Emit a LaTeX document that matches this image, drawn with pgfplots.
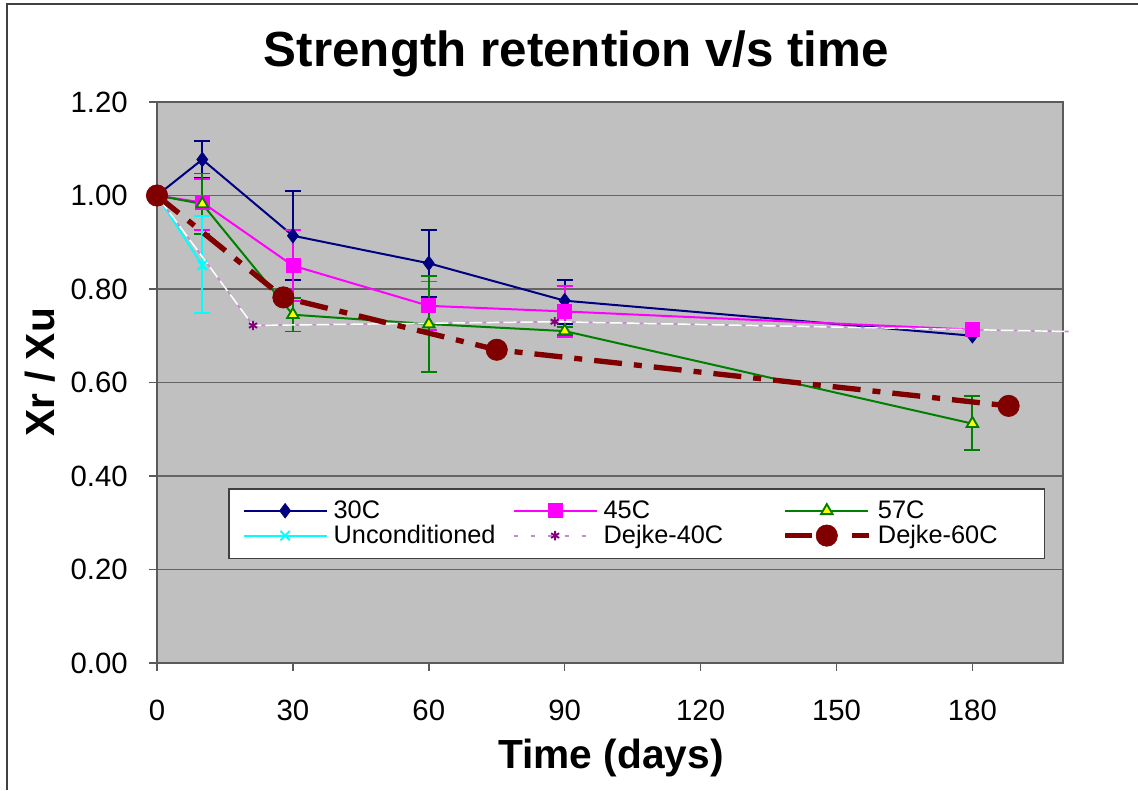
\documentclass[border=0pt]{standalone}
\usepackage{pgfplots}
\pgfplotsset{compat=1.18}
\usepackage{fontspec}
\setmainfont{Liberation Sans}
\definecolor{cNavy}{RGB}{0,0,128}
\definecolor{cMag}{RGB}{255,0,255}
\definecolor{cGreen}{RGB}{0,128,0}
\definecolor{cYellow}{RGB}{255,255,0}
\definecolor{cCyan}{RGB}{0,255,255}
\definecolor{cPurple}{RGB}{128,0,128}
\definecolor{cPlum}{RGB}{196,140,206}
\definecolor{cDRed}{RGB}{128,0,0}
\definecolor{cBg}{RGB}{192,192,192}
\definecolor{cGrid}{RGB}{100,100,100}
\definecolor{cAxis}{RGB}{90,90,90}
\definecolor{cFrame}{RGB}{64,64,64}
\newcommand{\lt}[2]{\makebox[#1][l]{\hspace*{4.5pt}#2}}
\pgfplotsset{
  errb/.style={forget plot, draw=none, mark=none,
    error bars/.cd, y dir=both, y explicit,
    error bar style={draw=#1, line width=1.4pt, solid},
    error mark options={draw=#1, line width=1.4pt, mark size=6pt, rotate=90}},
}
\begin{document}
\begin{tikzpicture}
\useasboundingbox (-117.75pt,-95.25pt) rectangle (735.75pt,497.25pt);
\draw[line width=1.5pt, cFrame] (-112.5pt,-95.25pt) -- (-112.5pt,494.25pt) -- (735.75pt,494.25pt);
\begin{axis}[
  at={(0,0)}, anchor=south west,
  scale only axis, width=679.5pt, height=420.75pt,
  xmin=0, xmax=200, ymin=0, ymax=1.2,
  xtick={0,30,60,90,120,150,180},
  ytick={0,0.2,0.4,0.6,0.8,1.0,1.2},
  clip=false,
  axis background/.style={fill=cBg},
  ymajorgrids, major grid style={draw=cGrid, line width=1.3pt},
  axis line style={draw=cAxis, line width=1.3pt},
  tick style={draw=cAxis, line width=1.1pt},
  major tick length=6pt,
  tick align=outside,
  xtick pos=bottom, ytick pos=left,
  /pgf/number format/assume math mode=true,
  ticklabel style={font=\fontsize{22pt}{25pt}\selectfont},
  yticklabel={\pgfmathprintnumber[fixed,fixed zerofill,precision=2,assume math mode=true]{\tick}},
  yticklabel style={anchor=east, inner sep=0pt, xshift=-15.75pt},
  xticklabel style={anchor=base, inner sep=0pt, yshift=-36.75pt},
  legend columns=3,
  legend cell align=left,
  legend image code/.code={\draw[mark repeat=2,mark phase=2,#1] plot coordinates {(0pt,0pt) (31.125pt,0pt) (62.25pt,0pt)};},
  legend style={at={(0.0787,0.3114)}, anchor=north west,
    font=\fontsize{19pt}{22pt}\selectfont,
    draw=black!75, line width=0.9pt, fill=white,
    inner xsep=10.3pt, inner ysep=9pt, row sep=3pt,
    nodes={inner sep=0pt}},
]
% 30C
\addplot[errb=cNavy] coordinates {
 (10,1.077) +- (0,0.039)
 (30,0.914) +- (0,0.095)
 (60,0.855) +- (0,0.072)
 (90,0.775) += (0,0.044) -= (0,0.050)
};
\addplot[cNavy, line width=1.5pt, mark=diamond*, mark size=5.5pt,
  mark options={solid, fill=cNavy, draw=cNavy, line width=0.5pt}] coordinates {
 (0,1.000) (10,1.077) (30,0.914) (60,0.855) (90,0.775) (180,0.700)
};
\addlegendentry{\lt{138.75pt}{30C}}
% 45C
\addplot[errb=cMag] coordinates {
 (10,0.985) += (0,0.051) -= (0,0.059)
 (30,0.850) +- (0,0.076)
 (60,0.764) +- (0,0.052)
 (90,0.752) +- (0,0.055)
};
\addplot[cMag, line width=1.5pt, mark=square*, mark size=5.25pt,
  mark options={solid, fill=cMag, draw=cMag, line width=0.5pt}] coordinates {
 (0,1.000) (10,0.985) (30,0.850) (60,0.764) (90,0.752) (180,0.713)
};
\addlegendentry{\lt{138.75pt}{45C}}
% 57C
\addplot[errb=cGreen] coordinates {
 (10,0.982) +- (0,0.065)
 (30,0.745) +- (0,0.036)
 (60,0.725) +- (0,0.103)
 (90,0.710) +- (0,0.008)
 (180,0.512) += (0,0.060) -= (0,0.056)
};
\addplot[cGreen, line width=1.5pt, mark=triangle*, mark size=5pt,
  mark options={solid, fill=cYellow, draw=cGreen, line width=1.4pt}] coordinates {
 (0,1.000) (10,0.982) (30,0.745) (60,0.725) (90,0.710) (180,0.512)
};
\addlegendentry{\lt{119pt}{57C}}
% Unconditioned
\addplot[errb=cCyan] coordinates {
 (10,0.851) += (0,0.105) -= (0,0.103)
};
\addplot[cCyan, line width=1.5pt, mark=x, mark size=5pt,
  mark options={solid, draw=cCyan, line width=1.5pt}] coordinates {
 (0,1.000) (10,0.851)
};
\addlegendentry{\lt{138.75pt}{Unconditioned}}
% Dejke-40C
\addplot[forget plot, white, line width=1.1pt, mark=none] coordinates {
 (0,1.000) (21.2,0.722) (87.8,0.730) (201.6,0.709)
};
\addplot[forget plot, cPlum, line width=1.4pt, dash pattern=on 3pt off 9.75pt, mark=none] coordinates {
 (87.8,0.730) (201.6,0.709)
};
\addplot[cPlum, line width=1.4pt, dash pattern=on 3pt off 9.75pt, mark=asterisk, mark size=3.5pt,
  mark options={solid, draw=cPurple, line width=1.4pt}] coordinates {
 (0,1.000) (21.2,0.722) (87.8,0.730)
};
\addlegendentry{\lt{138.75pt}{Dejke-40C}}
% Dejke-60C
\addplot[cDRed, line width=4pt, dash pattern=on 21pt off 9pt on 6pt off 9pt, mark=*, mark size=8pt,
  mark options={solid, fill=cDRed, draw=cDRed, line width=0.5pt},
  legend image code/.code={
    \draw[solid, cDRed, line width=4pt] (0pt,0pt) -- (20pt,0pt);
    \draw[solid, cDRed, line width=4pt] (50pt,0pt) -- (63pt,0pt);
    \draw[solid, cDRed, fill=cDRed, line width=0.5pt] (31.125pt,0pt) circle[radius=8pt];}] coordinates {
 (0,1.000) (27.9,0.782) (75.0,0.670) (188.0,0.550)
};
\addlegendentry{\lt{119pt}{Dejke-60C}}
\end{axis}
\node[anchor=base, font=\bfseries\fontsize{37pt}{44pt}\selectfont] at (314.6pt,447pt) {Strength retention v/s time};
\node[anchor=base, font=\bfseries\fontsize{30.5pt}{36pt}\selectfont] at (340.5pt,-78.75pt) {Time (days)};
\node[anchor=base, rotate=90, font=\bfseries\fontsize{30.5pt}{36pt}\selectfont] at (-76.5pt,217.9pt) {Xr / Xu};
\end{tikzpicture}
\end{document}
